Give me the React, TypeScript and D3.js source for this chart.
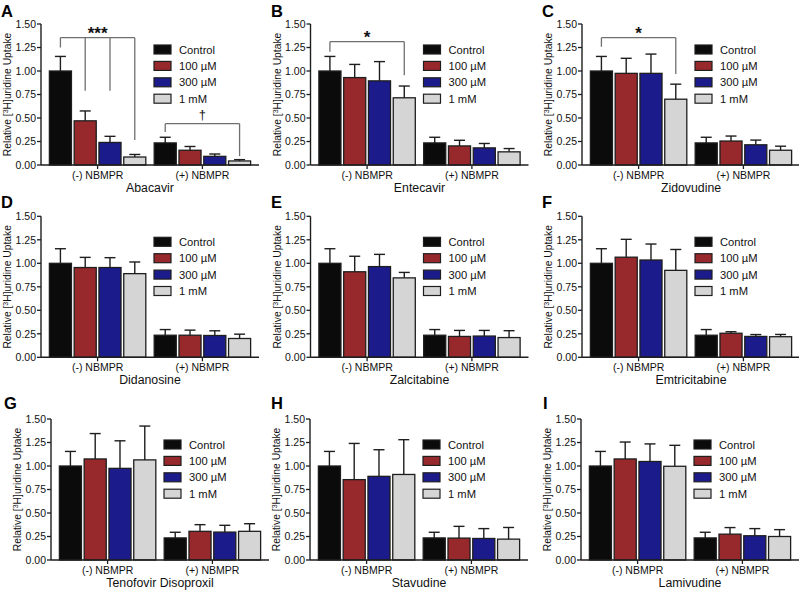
import React from "react";
import * as d3 from "d3";

// ---------- data ----------
const panelLetters = ["A", "B", "C", "D", "E", "F", "G", "H", "I"];
const drugs = [
  "Abacavir", "Entecavir", "Zidovudine",
  "Didanosine", "Zalcitabine", "Emtricitabine",
  "Tenofovir Disoproxil", "Stavudine", "Lamivudine",
];
const groups = ["(-) NBMPR", "(+) NBMPR"];
const seriesNames = ["Control", "100 µM", "300 µM", "1 mM"];
const yTicks = [0, 0.25, 0.5, 0.75, 1.0, 1.25, 1.5];

// means without NBMPR (Control, 100 µM, 300 µM, 1 mM)
const meanMinus = [
  [1.0, 0.47, 0.24, 0.085],
  [1.0, 0.93, 0.895, 0.715],
  [1.0, 0.975, 0.975, 0.70],
  [1.0, 0.955, 0.955, 0.89],
  [1.0, 0.91, 0.965, 0.845],
  [1.0, 1.065, 1.035, 0.925],
  [1.0, 1.075, 0.975, 1.065],
  [1.0, 0.855, 0.89, 0.91],
  [1.0, 1.075, 1.048, 0.997],
];
const errMinus = [
  [0.155, 0.105, 0.065, 0.027],
  [0.155, 0.14, 0.205, 0.125],
  [0.155, 0.16, 0.205, 0.16],
  [0.155, 0.108, 0.105, 0.124],
  [0.155, 0.165, 0.13, 0.058],
  [0.155, 0.19, 0.17, 0.222],
  [0.155, 0.27, 0.293, 0.36],
  [0.155, 0.385, 0.283, 0.37],
  [0.155, 0.18, 0.187, 0.223],
];
// means with NBMPR
const meanPlus = [
  [0.235, 0.157, 0.092, 0.043],
  [0.235, 0.203, 0.182, 0.14],
  [0.235, 0.255, 0.215, 0.157],
  [0.235, 0.235, 0.232, 0.2],
  [0.235, 0.222, 0.226, 0.21],
  [0.235, 0.256, 0.222, 0.219],
  [0.235, 0.305, 0.297, 0.305],
  [0.235, 0.233, 0.229, 0.222],
  [0.235, 0.275, 0.258, 0.25],
];
const errPlus = [
  [0.06, 0.04, 0.025, 0.014],
  [0.06, 0.06, 0.047, 0.035],
  [0.06, 0.053, 0.05, 0.043],
  [0.06, 0.054, 0.05, 0.046],
  [0.06, 0.064, 0.06, 0.073],
  [0.06, 0.016, 0.02, 0.024],
  [0.06, 0.071, 0.072, 0.081],
  [0.06, 0.125, 0.105, 0.124],
  [0.06, 0.07, 0.076, 0.073],
];

// significance brackets: panel index, group index, bracket level, drop ends per series (null = no drop)
const bracketPanels = [0, 0, 1, 2];
const bracketGroups = [0, 1, 0, 0];
const bracketLevels = [1.355, 0.44, 1.312, 1.354];
const bracketDrops = [
  [1.25, 0.79, 0.79, 0.265],
  [0.352, null, null, 0.095],
  [1.205, null, null, 0.956],
  [1.258, null, null, 0.967],
];
const bracketLabels = ["***", "†", "*", "*"];

// ---------- style / layout ----------
const seriesColors = ["#0b0b0b", "#97282b", "#1b1b8c", "#d5d5d5"];
const colX = [
  [41, 310.5, 582],
  [41, 310.5, 582],
  [51, 310, 581],
];
const rowTop = [24, 216.3, 419];
const letterX = [
  [1, 271, 542],
  [1, 271, 542],
  [4, 271, 543],
];
const letterY = [17, 207.5, 409];
const plotW = 218;
const plotH = 141;
const FONT = "'Liberation Sans', Arial, Helvetica, sans-serif";
const INK = "#1e1e1e";

function Panel({ idx }: { idx: number }) {
  const row = Math.floor(idx / 3);
  const col = idx % 3;
  const ox = colX[row][col];
  const top = rowTop[row];
  const bottom = top + plotH;

  const y = d3.scaleLinear().domain([0, 1.5]).range([bottom, top]);
  const x0 = d3
    .scaleBand<string>()
    .domain(groups)
    .range([ox, ox + plotW])
    .paddingInner(0.08)
    .paddingOuter(0.08);
  const x1 = d3
    .scaleBand<string>()
    .domain(seriesNames)
    .range([0, x0.bandwidth()])
    .paddingInner(0.11)
    .paddingOuter(0);
  const bw = x1.bandwidth();
  const cx = (g: number, s: number) =>
    (x0(groups[g]) as number) + (x1(seriesNames[s]) as number) + bw / 2;

  const means = [meanMinus[idx], meanPlus[idx]];
  const errs = [errMinus[idx], errPlus[idx]];

  return (
    <g fontFamily={FONT}>
      {/* letter */}
      <text x={letterX[row][col]} y={letterY[row]} fontSize={16.5} fontWeight="bold" fill="#000">
        {panelLetters[idx]}
      </text>

      {/* bars */}
      {groups.map((g, gi) =>
        seriesNames.map((s, si) => {
          const v = means[gi][si];
          const xl = (x0(g) as number) + (x1(s) as number);
          return (
            <rect
              key={`b${gi}-${si}`}
              x={xl}
              y={y(v)}
              width={bw}
              height={y(0) - y(v)}
              fill={seriesColors[si]}
              stroke={INK}
              strokeWidth={1.3}
            />
          );
        })
      )}

      {/* error bars */}
      {groups.map((g, gi) =>
        seriesNames.map((s, si) => {
          const v = means[gi][si];
          const e = errs[gi][si];
          const c = cx(gi, si);
          return (
            <g key={`e${gi}-${si}`} stroke={INK} strokeWidth={1.4} fill="none">
              <line x1={c} x2={c} y1={y(v)} y2={y(v + e)} />
              <line x1={c - 5.5} x2={c + 5.5} y1={y(v + e)} y2={y(v + e)} />
            </g>
          );
        })
      )}

      {/* significance brackets */}
      {bracketPanels.map((p, bi) => {
        if (p !== idx) return null;
        const g = bracketGroups[bi];
        const yl = y(bracketLevels[bi]);
        const drops = bracketDrops[bi];
        const xs = drops.map((_, si) => cx(g, si));
        const label = bracketLabels[bi];
        const mid = (xs[0] + xs[3]) / 2;
        const isDagger = label === "†";
        return (
          <g key={`br${bi}`}>
            <line x1={xs[0]} x2={xs[3]} y1={yl} y2={yl} stroke="#6f6f6f" strokeWidth={1.3} />
            {drops.map((d, si) =>
              d === null ? null : (
                <line
                  key={si}
                  x1={xs[si]}
                  x2={xs[si]}
                  y1={yl}
                  y2={y(d)}
                  stroke="#6f6f6f"
                  strokeWidth={1.3}
                />
              )
            )}
            <text
              x={mid}
              y={isDagger ? yl - 5 : yl + 1.5}
              textAnchor="middle"
              fontSize={isDagger ? 13 : 17}
              fontWeight={isDagger ? "normal" : "bold"}
              fill="#111"
            >
              {label}
            </text>
          </g>
        );
      })}

      {/* y axis */}
      <line x1={ox} x2={ox} y1={top} y2={bottom} stroke={INK} strokeWidth={1.4} />
      {yTicks.map((t) => (
        <g key={`yt${t}`}>
          <line x1={ox - 4} x2={ox} y1={y(t)} y2={y(t)} stroke={INK} strokeWidth={1.3} />
          <text
            x={ox - 5}
            y={y(t) + 3.8}
            textAnchor="end"
            fontSize={10.5}
            fill="#111"
          >
            {d3.format(".2f")(t)}
          </text>
        </g>
      ))}

      {/* x axis */}
      <line x1={ox} x2={ox + plotW} y1={bottom} y2={bottom} stroke={INK} strokeWidth={1.4} />
      {groups.map((g) => {
        const c = (x0(g) as number) + x0.bandwidth() / 2;
        return (
          <g key={`xt${g}`}>
            <line x1={c} x2={c} y1={bottom} y2={bottom + 4} stroke={INK} strokeWidth={1.3} />
            <text x={c} y={bottom + 14} textAnchor="middle" fontSize={10.5} fill="#111">
              {g}
            </text>
          </g>
        );
      })}
      <text
        x={ox + plotW / 2}
        y={bottom + 26.5}
        textAnchor="middle"
        fontSize={12.3}
        fill="#111"
      >
        {drugs[idx]}
      </text>

      {/* y label */}
      <text
        transform={`translate(${ox - 30},${(top + bottom) / 2}) rotate(-90)`}
        textAnchor="middle"
        fontSize={10.3}
        fill="#111"
      >
        Relative [
        <tspan baselineShift="super" fontSize={7}>
          3
        </tspan>
        H]uridine Uptake
      </text>

      {/* legend */}
      {seriesNames.map((s, si) => {
        const cy = top + 25.5 + si * 16.4;
        return (
          <g key={`lg${si}`}>
            <rect
              x={ox + 113}
              y={cy - 4.5}
              width={17}
              height={9}
              fill={seriesColors[si]}
              stroke={INK}
              strokeWidth={1.2}
            />
            <text x={ox + 138} y={cy + 4} fontSize={11.2} fill="#111">
              {s}
            </text>
          </g>
        );
      })}
    </g>
  );
}

export default function App() {
  return (
    <svg
      width={799}
      height={594}
      viewBox="0 0 799 594"
      style={{ position: "absolute", left: 0, top: 0, background: "#fff" }}
    >
      <rect x={0} y={0} width={799} height={594} fill="#fff" />
      {panelLetters.map((_, i) => (
        <Panel key={i} idx={i} />
      ))}
    </svg>
  );
}
